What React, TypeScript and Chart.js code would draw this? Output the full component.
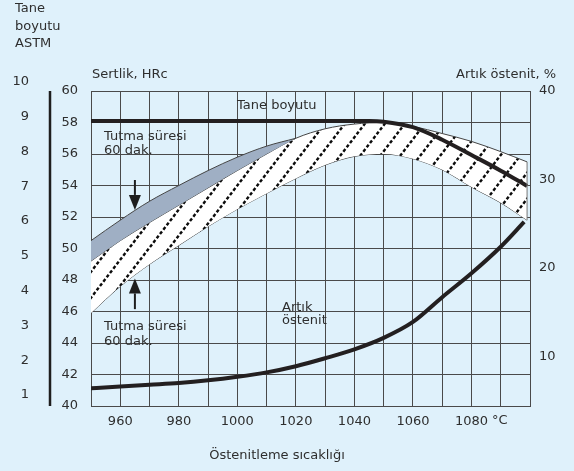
import React, { useEffect, useRef } from 'react';
import { Chart, registerables } from 'chart.js';

Chart.register(...registerables);

// Austenitizing temperature (°C)
const temps = [950, 960, 970, 980, 990, 1000, 1010, 1020, 1030, 1040, 1050, 1060, 1070, 1080, 1090, 1099];
// Hardness band (hatched), HRc
const hatchTop = [49.2, 50.5, 51.65, 52.75, 53.85, 54.95, 56.0, 57.0, 57.6, 57.9, 58.0, 57.75, 57.3, 56.8, 56.15, 55.5];
const hatchBottom = [45.9, 47.6, 49.0, 50.2, 51.4, 52.5, 53.5, 54.45, 55.3, 55.85, 56.0, 55.7, 55.0, 53.9, 52.9, 51.8];
// Hardness band (grey, 60 min holding), HRc
const grayTemps = [950, 960, 970, 980, 990, 1000, 1010, 1020];
const grayTop = [50.5, 51.8, 53.0, 54.0, 54.95, 55.8, 56.5, 57.0];
// Grain size, ASTM
const grainTemps = [950, 1000, 1045, 1050, 1060, 1070, 1080, 1090, 1099];
const grainSize = [8.88, 8.88, 8.88, 8.86, 8.7, 8.34, 7.9, 7.45, 7.01];
// Retained austenite, %
const austTemps = [950, 960, 970, 980, 990, 1000, 1010, 1020, 1030, 1040, 1050, 1060, 1070, 1080, 1090, 1098];
const austenite = [6.4, 6.6, 6.8, 7.0, 7.3, 7.7, 8.2, 8.9, 9.8, 10.8, 12.1, 13.9, 16.7, 19.4, 22.4, 25.2];
// Tick labels
const xLabels = [960, 980, 1000, 1020, 1040, 1060, 1080];
const astmLabels = [1, 2, 3, 4, 5, 6, 7, 8, 9, 10];
const pctLabels = [10, 20, 30, 40];

const FONT = "'DejaVu Sans', Verdana, sans-serif";
const TEXT = '#2e2e2e';

function makeHatch(): CanvasPattern | string {
  const W = 20;
  const H = 26;
  const c = document.createElement('canvas');
  c.width = W;
  c.height = H;
  const g = c.getContext('2d');
  if (!g) return '#ffffff';
  g.fillStyle = '#ffffff';
  g.fillRect(0, 0, W, H);
  g.strokeStyle = '#0c0c0c';
  g.lineWidth = 2.4;
  const L = Math.hypot(W, H);
  const period = L / 6;
  g.setLineDash([period * 0.6, period * 0.4]);
  for (const dx of [-W, 0, W]) {
    g.beginPath();
    g.moveTo(-W + dx, 2 * H);
    g.lineTo(2 * W + dx, -H);
    g.stroke();
  }
  return g.createPattern(c, 'repeat') || '#ffffff';
}

function arrow(ctx: CanvasRenderingContext2D, x: number, yFrom: number, yTip: number) {
  const dir = yTip > yFrom ? 1 : -1;
  const headLen = 15;
  const headHalf = 6;
  ctx.beginPath();
  ctx.moveTo(x, yFrom);
  ctx.lineTo(x, yTip - dir * headLen);
  ctx.lineWidth = 2;
  ctx.strokeStyle = '#1e1e1e';
  ctx.stroke();
  ctx.beginPath();
  ctx.moveTo(x, yTip);
  ctx.lineTo(x - headHalf, yTip - dir * headLen);
  ctx.lineTo(x + headHalf, yTip - dir * headLen);
  ctx.closePath();
  ctx.fillStyle = '#1e1e1e';
  ctx.fill();
}

const annotPlugin = {
  id: 'annot',
  afterDraw(chart: any) {
    const ctx: CanvasRenderingContext2D = chart.ctx;
    const xs = chart.scales.x;
    const ys = chart.scales.y;
    const as = chart.scales.astm;
    const area = chart.chartArea;
    ctx.save();

    // right edge of hatched band
    const xe = xs.getPixelForValue(temps[temps.length - 1]);
    ctx.beginPath();
    ctx.moveTo(xe, ys.getPixelForValue(hatchTop[hatchTop.length - 1]));
    ctx.lineTo(xe, ys.getPixelForValue(hatchBottom[hatchBottom.length - 1]));
    ctx.strokeStyle = '#777';
    ctx.lineWidth = 1;
    ctx.stroke();

    // ASTM axis bar
    ctx.beginPath();
    ctx.moveTo(50, area.top);
    ctx.lineTo(50, area.bottom);
    ctx.strokeStyle = '#1e1e1e';
    ctx.lineWidth = 2.5;
    ctx.stroke();

    ctx.fillStyle = TEXT;
    ctx.font = `13px ${FONT}`;
    ctx.textBaseline = 'middle';

    // ASTM labels
    ctx.textAlign = 'right';
    for (const v of astmLabels) {
      ctx.fillText(String(v), 29, as.getPixelForValue(v));
    }
    ctx.fillText('Artık östenit, %', 556, 75);

    ctx.textAlign = 'left';
    ctx.fillText('Tane', 15, 9);
    ctx.fillText('boyutu', 15, 27);
    ctx.fillText('ASTM', 15, 44);
    ctx.fillText('Sertlik, HRc', 92, 75);
    ctx.fillText('Tane boyutu', 237, 106);
    ctx.fillText('Tutma süresi', 104, 137);
    ctx.fillText('60 dak.', 104, 151);
    ctx.fillText('Tutma süresi', 104, 327);
    ctx.fillText('60 dak.', 104, 342);
    ctx.fillText('Artık', 282, 308);
    ctx.fillText('östenit', 282, 321);
    ctx.fillText('°C', 492, 421);

    ctx.textAlign = 'center';
    ctx.fillText('Östenitleme sıcaklığı', 277, 456);

    // arrows
    const ax = xs.getPixelForValue(965);
    arrow(ctx, ax, ys.getPixelForValue(54.35), ys.getPixelForValue(52.45));
    arrow(ctx, ax, ys.getPixelForValue(46.15), ys.getPixelForValue(48.1));

    ctx.restore();
  },
};

export default function App() {
  const ref = useRef<HTMLCanvasElement>(null);

  useEffect(() => {
    const canvas = ref.current;
    if (!canvas) return;
    Chart.defaults.font.family = FONT;
    Chart.defaults.font.size = 13;
    Chart.defaults.color = TEXT;
    const hatch = makeHatch();
    const pts = (xs: number[], ys: number[]) => xs.map((x, i) => ({ x, y: ys[i] }));
    const base = {
      pointRadius: 0,
      pointHoverRadius: 0,
      cubicInterpolationMode: 'monotone' as const,
      fill: false as any,
    };
    const grid = { color: '#4a4a4a', lineWidth: 1, drawTicks: false };
    const chart = new Chart(canvas, {
      type: 'line',
      data: {
        datasets: [
          {
            ...base,
            label: 'Tane boyutu',
            data: pts(grainTemps, grainSize),
            yAxisID: 'astm',
            borderColor: '#231f20',
            borderWidth: 4,
          },
          {
            ...base,
            label: 'Artık östenit',
            data: pts(austTemps, austenite),
            yAxisID: 'y2',
            borderColor: '#231f20',
            borderWidth: 4,
          },
          {
            ...base,
            label: 'Tutma süresi 60 dak. (üst)',
            data: pts(grayTemps, grayTop),
            yAxisID: 'y',
            borderColor: '#444444',
            borderWidth: 1,
            backgroundColor: '#9fafc4',
            fill: '+1',
          },
          {
            ...base,
            label: 'gri alt',
            data: pts(grayTemps, hatchTop.slice(0, grayTemps.length)),
            yAxisID: 'y',
            borderColor: 'rgba(0,0,0,0)',
            borderWidth: 0,
          },
          {
            ...base,
            label: 'Sertlik üst',
            data: pts(temps, hatchTop),
            yAxisID: 'y',
            borderColor: '#444444',
            borderWidth: 1,
            backgroundColor: hatch as any,
            fill: '+1',
          },
          {
            ...base,
            label: 'Sertlik alt',
            data: pts(temps, hatchBottom),
            yAxisID: 'y',
            borderColor: '#444444',
            borderWidth: 1,
          },
        ],
      },
      options: {
        responsive: false,
        animation: false,
        devicePixelRatio: 1,
        layout: { padding: { left: 0, right: 0, top: 91, bottom: 0 } },
        plugins: { legend: { display: false }, tooltip: { enabled: false } },
        scales: {
          x: {
            type: 'linear',
            position: 'bottom',
            min: 950,
            max: 1100,
            afterFit: (s: any) => {
              s.height = 65;
            },
            ticks: {
              stepSize: 10,
              autoSkip: false,
              maxRotation: 0,
              padding: 8,
              color: TEXT,
              font: { size: 13, family: FONT },
              callback: (v: any) => {
                const n = Math.round(Number(v));
                return xLabels.includes(n) ? String(n) : '';
              },
            },
            grid,
            border: { color: '#4a4a4a' },
          },
          y: {
            type: 'linear',
            position: 'left',
            min: 40,
            max: 60,
            afterFit: (s: any) => {
              s.width = 91;
            },
            ticks: { stepSize: 2, padding: 13, color: TEXT, font: { size: 13, family: FONT } },
            grid,
            border: { color: '#4a4a4a' },
          },
          astm: {
            type: 'linear',
            position: 'left',
            display: false,
            min: 0.684,
            max: 9.741,
          },
          y2: {
            type: 'linear',
            position: 'right',
            min: 4.4,
            max: 40,
            afterFit: (s: any) => {
              s.width = 44;
            },
            afterBuildTicks: (s: any) => {
              s.ticks = pctLabels.map((v) => ({ value: v }));
            },
            ticks: { padding: 9, color: TEXT, font: { size: 13, family: FONT } },
            grid: { display: false, drawTicks: false },
            border: { display: false },
          },
        },
      } as any,
      plugins: [annotPlugin],
    });
    return () => chart.destroy();
  }, []);

  return (
    <div
      style={{
        position: 'fixed',
        left: 0,
        top: 0,
        width: 574,
        height: 471,
        background: '#dff1fb',
      }}
    >
      <canvas ref={ref} width={574} height={471} style={{ display: 'block', width: 574, height: 471 }} />
    </div>
  );
}
